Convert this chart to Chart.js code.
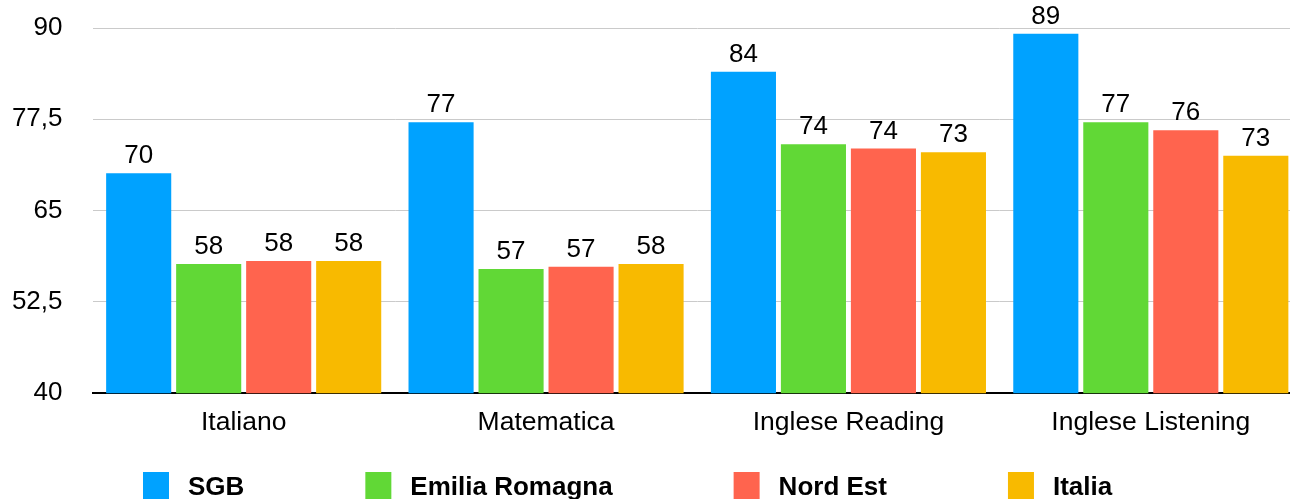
<!DOCTYPE html>
<html>
<head>
<meta charset="utf-8">
<script src="https://cdn.jsdelivr.net/npm/chart.js@4/dist/chart.umd.min.js"></script>
<style>
  html, body { margin: 0; padding: 0; background: #fff; overflow: hidden; }
  #wrap { position: relative; width: 1302px; height: 499px; }
</style>
</head>
<body>
<div id="wrap"><canvas id="c"></canvas></div>
<script>
const categories = ["Italiano", "Matematica", "Inglese Reading", "Inglese Listening"];
const seriesNames = ["SGB", "Emilia Romagna", "Nord Est", "Italia"];
const sgb = [70.1, 77.1, 84.0, 89.2];
const emiliaRomagna = [57.7, 57.0, 74.1, 77.1];
const nordEst = [58.1, 57.3, 73.5, 76.0];
const italia = [58.1, 57.7, 73.0, 72.5];
const yTicks = [40, 52.5, 65, 77.5, 90];
const colors = ["#00A2FF", "#61D836", "#FF644E", "#F8BA00"];

const FONT = "'Liberation Sans', Arial, Helvetica, sans-serif";

const valueLabels = {
  id: 'valueLabels',
  afterDatasetsDraw(chart) {
    const ctx = chart.ctx;
    ctx.save();
    ctx.font = "26px " + FONT;
    ctx.fillStyle = "#000";
    ctx.textAlign = "center";
    ctx.textBaseline = "alphabetic";
    chart.data.datasets.forEach((ds, di) => {
      const meta = chart.getDatasetMeta(di);
      meta.data.forEach((bar, i) => {
        ctx.fillText(String(Math.round(ds.data[i])), bar.x, bar.y - 10);
      });
    });
    ctx.restore();
  }
};

const customLegend = {
  id: 'customLegend',
  afterDraw(chart) {
    const ctx = chart.ctx;
    ctx.save();
    ctx.font = "bold 26px " + FONT;
    ctx.textAlign = "left";
    ctx.textBaseline = "alphabetic";
    let x = 143;
    const boxW = 26, boxTop = 472, gapText = 19, gapItem = 121, baseline = 495;
    chart.data.datasets.forEach((ds) => {
      ctx.fillStyle = ds.backgroundColor;
      ctx.fillRect(x, boxTop, boxW, 30);
      ctx.fillStyle = "#000";
      const tx = x + boxW + gapText;
      ctx.fillText(ds.label, tx, baseline);
      x = tx + ctx.measureText(ds.label).width + gapItem;
    });
    ctx.restore();
  }
};

const datasets = [sgb, emiliaRomagna, nordEst, italia].map((d, i) => ({
  label: seriesNames[i],
  data: d,
  backgroundColor: colors[i],
  borderWidth: 0,
  categoryPercentage: 0.926,
  barPercentage: 0.93
}));

new Chart(document.getElementById('c'), {
  type: 'bar',
  data: { labels: categories, datasets },
  options: {
    responsive: true,
    maintainAspectRatio: false,
    animation: false,
    layout: { padding: { top: 28, bottom: 46, left: 0, right: 0 } },
    plugins: { legend: { display: false }, tooltip: { enabled: false } },
    scales: {
      x: {
        grid: { display: false, drawTicks: false },
        border: { display: true, color: "#000", width: 2 },
        ticks: { color: "#000", font: { family: FONT, size: 26.5 }, padding: 14 }
      },
      y: {
        min: 40, max: 90,
        afterBuildTicks(scale) { scale.ticks = yTicks.map(v => ({ value: v })); },
        afterFit(scale) { scale.width = 92.5; scale.paddingTop = 0; scale.paddingBottom = 0; },
        grid: { color: "#CACACA", lineWidth: 1, drawTicks: false },
        border: { display: false },
        ticks: {
          color: "#000",
          font: { family: FONT, size: 26 },
          padding: 30,
          callback: (v) => String(v).replace('.', ',')
        }
      }
    }
  },
  plugins: [valueLabels, customLegend]
});
</script>
</body>
</html>
